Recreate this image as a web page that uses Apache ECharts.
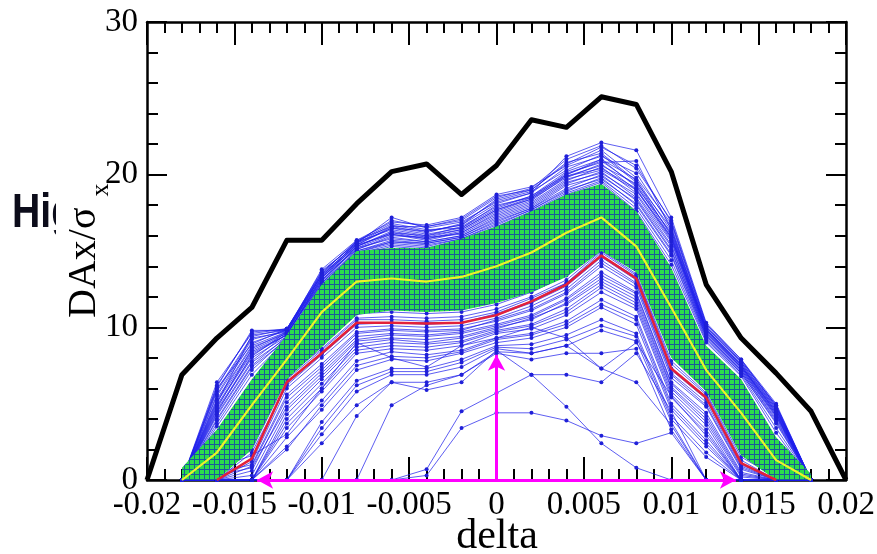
<!DOCTYPE html>
<html>
<head>
<meta charset="utf-8">
<script src="https://cdn.jsdelivr.net/npm/echarts@6/dist/echarts.min.js"></script>
<style>
  html, body { margin: 0; padding: 0; background: #fff; }
  #chart { width: 877px; height: 554px; }
</style>
</head>
<body>
<div id="chart"></div>
<script>
// Momentum offsets of the tracked seeds and of the outer envelope
const seedDelta = [-0.018, -0.016, -0.014, -0.012, -0.010, -0.008, -0.006, -0.004, -0.002, 0,
                   0.002, 0.004, 0.006, 0.008, 0.010, 0.012, 0.014, 0.016, 0.018];
const envDelta = [-0.02, -0.018, -0.016, -0.014, -0.012, -0.010, -0.008, -0.006, -0.004, -0.002, 0,
                  0.002, 0.004, 0.006, 0.008, 0.010, 0.012, 0.014, 0.016, 0.018, 0.02];

// Outer envelope (black)
const maxDA = [0, 6.9, 9.3, 11.3, 15.7, 15.7, 18.1, 20.2, 20.7, 18.7, 20.6,
               23.6, 23.1, 25.1, 24.6, 20.2, 12.8, 9.3, 7.0, 4.5, 0];
// Seed average (yellow) and lower curve (red)
const meanDA = [0, 1.8, 4.9, 7.9, 11.0, 13.0, 13.2, 13.0, 13.3, 14.0,
                14.9, 16.2, 17.2, 15.3, 11.3, 7.2, 4.4, 1.3, 0];
const lowDA = [null, 0, 1.4, 6.4, 8.3, 10.3, 10.3, 10.25, 10.3, 10.8,
               11.7, 12.8, 14.7, 13.2, 7.3, 5.4, 1.1, 0, null];
// Spread band (green)
const bandLow = [0, 0, 2.0, 6.6, 8.7, 10.8, 11.1, 11.0, 11.1, 11.6,
                 12.3, 13.3, 15.0, 13.6, 8.0, 5.8, 1.6, 0, 0];
const bandHigh = [0.8, 3.3, 6.6, 9.5, 12.8, 15.0, 15.2, 15.2, 15.8, 16.6,
                  17.6, 18.7, 19.4, 17.6, 13.9, 8.8, 6.6, 2.8, 0.4];

// Individual seeds (blue)
const upperRuns = [
  [0, 6.4, 9.6, 9.9, 13.4, 15.5, 17.2, 16.5, 16.9, 18.2, 18.8, 21.2, 22.1, 21.6, 17.2, 10.3, 7.9, 5.0, 0],
  [0, 6.1, 9.8, 9.8, 13.8, 15.7, 16.9, 16.7, 17.2, 18.7, 19.2, 20.6, 21.6, 19.8, 16.8, 10.1, 7.7, 4.8, 0],
  [0, 5.8, 9.3, 9.7, 13.5, 15.4, 16.6, 16.2, 16.8, 18.3, 18.9, 20.3, 21.3, 19.5, 16.5, 9.9, 7.6, 4.6, 0],
  [0, 5.5, 9.0, 9.8, 13.2, 15.6, 16.4, 16.0, 16.6, 17.9, 18.6, 20.0, 21.0, 19.2, 16.2, 9.8, 7.5, 4.5, 0],
  [0, 5.2, 8.7, 9.6, 13.0, 15.3, 16.2, 15.8, 16.3, 17.6, 18.4, 19.8, 20.7, 19.0, 15.9, 9.7, 7.4, 4.4, 0],
  [0, 4.9, 8.4, 9.5, 13.3, 15.1, 16.0, 15.9, 16.1, 17.3, 18.1, 19.6, 20.5, 18.8, 15.6, 9.6, 7.3, 4.2, 0],
  [0, 4.6, 8.1, 9.7, 13.1, 15.2, 15.8, 15.6, 16.0, 17.1, 17.9, 19.4, 20.2, 18.5, 15.3, 9.5, 7.2, 4.1, 0],
  [0, 4.3, 7.8, 9.6, 12.9, 15.0, 15.6, 15.5, 15.9, 16.9, 17.8, 19.1, 20.0, 18.3, 15.0, 9.4, 7.1, 3.9, 0],
  [0, 4.0, 7.5, 9.4, 12.8, 14.9, 15.5, 15.3, 15.8, 16.7, 17.7, 18.9, 19.8, 18.0, 14.7, 9.2, 7.0, 3.7, 0],
  [0, 3.7, 7.2, 9.3, 12.6, 14.8, 15.4, 15.2, 15.7, 16.6, 17.6, 18.8, 19.6, 17.8, 14.4, 9.1, 6.9, 3.4, 0],
  [0, 3.5, 6.9, 9.2, 12.5, 14.7, 15.3, 15.1, 15.6, 16.5, 17.5, 18.7, 19.5, 17.6, 14.1, 9.0, 6.8, 3.1, 0],
  [0, 5.0, 9.5, 9.8, 13.6, 15.6, 16.8, 16.4, 16.5, 18.0, 18.5, 20.1, 20.8, 20.9, 16.4, 10.0, 7.8, 4.9, 0],
  [0, 6.0, 8.9, 9.9, 13.7, 15.5, 16.5, 16.3, 16.7, 18.4, 19.0, 20.8, 21.4, 19.6, 16.0, 9.9, 7.6, 4.7, 0],
  [0, 4.4, 8.2, 9.5, 13.2, 15.4, 16.1, 15.7, 16.2, 17.5, 18.3, 19.9, 20.4, 19.1, 15.8, 9.7, 7.4, 4.3, 0],
  [0, 6.2, 9.7, 9.9, 13.6, 15.6, 17.0, 16.6, 17.0, 18.5, 19.1, 21.0, 21.9, 20.4, 17.0, 10.2, 7.8, 4.9, 0],
  [0, 5.6, 9.2, 9.8, 13.4, 15.5, 16.7, 16.3, 16.7, 18.1, 18.8, 20.5, 21.2, 20.1, 16.6, 10.0, 7.7, 4.7, 0],
  [0, 5.3, 8.8, 9.7, 13.3, 15.4, 16.5, 16.1, 16.5, 17.8, 18.6, 20.2, 21.0, 19.7, 16.3, 9.9, 7.5, 4.6, 0],
  [0, 5.1, 8.5, 9.6, 13.1, 15.3, 16.3, 15.9, 16.4, 17.7, 18.5, 19.9, 20.6, 19.4, 16.1, 9.8, 7.4, 4.5, 0],
  [0, 4.8, 8.3, 9.5, 13.0, 15.2, 16.1, 15.8, 16.2, 17.4, 18.2, 19.7, 20.3, 19.0, 15.7, 9.6, 7.3, 4.3, 0],
  [0, 4.5, 8.0, 9.4, 12.9, 15.1, 15.9, 15.6, 16.0, 17.2, 18.0, 19.5, 20.1, 18.7, 15.4, 9.5, 7.2, 4.2, 0],
  [0, 4.2, 7.7, 9.3, 12.8, 15.0, 15.7, 15.5, 15.9, 17.0, 17.8, 19.3, 19.9, 18.4, 15.1, 9.4, 7.1, 4.0, 0],
  [0, 3.9, 7.4, 9.2, 12.7, 14.9, 15.6, 15.4, 15.8, 16.8, 17.7, 19.0, 19.7, 18.1, 14.8, 9.3, 7.0, 3.8, 0],
  [0, 5.9, 9.4, 9.9, 13.5, 15.7, 16.6, 16.6, 17.1, 18.6, 19.0, 20.7, 21.8, 20.6, 16.9, 10.2, 7.9, 4.8, 0],
  [0, 4.7, 8.6, 9.7, 13.4, 15.3, 16.2, 16.0, 16.4, 17.7, 18.4, 20.0, 20.9, 19.3, 15.9, 9.8, 7.5, 4.4, 0]
];
const middleRuns = [
  [0, 0.6, 2.4, 6.8, 8.6, 10.6, 10.7, 10.6, 10.7, 11.2, 12.0, 13.1, 15.0, 13.5, 7.8, 5.7, 1.5, 0.2, 0],
  [0, 1.0, 2.9, 7.2, 8.9, 10.9, 11.0, 10.9, 11.0, 11.5, 12.3, 13.4, 15.3, 13.8, 8.3, 6.1, 2.0, 0.4, 0],
  [0, 0.3, 2.0, 6.6, 8.5, 10.5, 10.5, 10.4, 10.5, 11.0, 11.9, 12.9, 14.9, 13.4, 7.6, 5.6, 1.3, 0, 0],
  [0, 1.3, 3.2, 7.5, 9.2, 11.1, 11.3, 11.1, 11.2, 11.8, 12.5, 13.6, 15.5, 14.0, 8.6, 6.4, 2.3, 0.6, 0]
];
const lowerRuns = [
  [0, 0, 1.2, 6.0, 8.0, 10.0, 10.1, 10.0, 10.1, 10.6, 11.4, 12.5, 14.4, 12.9, 7.0, 5.1, 0.9, 0, 0],
  [0, 0.5, 1.0, 5.6, 7.6, 9.7, 9.9, 9.8, 9.9, 10.4, 11.1, 12.2, 14.0, 12.6, 6.7, 4.8, 0.7, 0, 0],
  [0, 0, 0.6, 5.1, 7.2, 9.4, 9.6, 9.5, 9.7, 10.2, 10.8, 11.9, 13.6, 12.3, 6.4, 4.4, 0.5, 0, 0],
  [0, 0, 0.3, 4.6, 6.8, 9.1, 9.3, 9.2, 9.4, 10.0, 10.5, 11.6, 13.2, 12.0, 6.1, 4.0, 0.3, 0, 0],
  [0, 0, 0, 4.0, 6.3, 8.7, 9.0, 8.9, 9.1, 9.8, 10.2, 11.2, 12.8, 11.6, 5.8, 3.6, 0, 0, 0],
  [0, 0, 0, 3.4, 5.8, 8.3, 8.6, 8.5, 8.8, 9.6, 9.9, 10.8, 12.3, 11.2, 5.4, 3.1, 0, 0, 0],
  [0, 0, 0, 2.8, 5.2, 7.8, 8.4, 8.2, 8.5, 9.3, 9.6, 10.4, 11.8, 10.7, 5.0, 2.6, 0, 0, 0],
  [0, 0, 0, 2.2, 4.6, 7.2, 7.9, 7.8, 8.3, 9.0, 9.3, 10.0, 11.3, 10.2, 4.6, 2.2, 0, 0, 0],
  [0, 0, 0, 0, 3.8, 6.5, 7.3, 7.3, 7.9, 8.8, 8.9, 9.5, 10.5, 9.6, 4.2, 1.8, 0, 0, 0],
  [0, 0, 0, 0, 3.0, 5.8, 6.9, 6.9, 7.4, 8.6, 8.3, 8.8, 9.8, 9.1, 3.8, 0, 0, 0, 0],
  [0, 0, 0, 0, 2.4, 4.9, 6.4, 6.4, 6.9, 8.3, 7.9, 8.3, 8.3, 8.6, 3.3, 0, 0, 0, 0],
  [0, 0, 0, 0, 0, 4.2, 6.4, 5.9, 6.4, 8.5, 6.9, 6.9, 6.4, 8.3, 4.5, 0, 0, 0, 0],
  [0, 0, 1.8, 6.2, 8.2, 10.2, 10.3, 10.2, 10.3, 10.8, 11.6, 12.7, 14.6, 13.1, 7.2, 5.3, 1.0, 0, 0],
  [0, 0.8, 1.6, 3.0, 6.0, 9.0, 8.0, 7.4, 8.8, 9.3, 10.0, 9.3, 7.3, 9.0, 5.5, 2.9, 0, 0, 0],
  [0, 0, 1.4, 6.3, 8.3, 10.3, 10.3, 10.3, 10.3, 10.9, 11.7, 12.9, 14.7, 13.3, 7.3, 5.4, 1.1, 0, 0],
  [0, 0, 0.9, 5.4, 7.4, 9.6, 9.8, 9.7, 9.8, 10.5, 11.2, 12.3, 14.2, 12.8, 6.9, 4.9, 0.8, 0, 0],
  [0, 0, 0, 4.3, 6.6, 8.9, 9.2, 9.0, 9.3, 9.9, 10.6, 11.5, 13.0, 11.8, 6.0, 3.8, 0.2, 0, 0],
  [0, 0, 0, 3.7, 6.0, 8.5, 8.8, 8.7, 9.0, 9.7, 10.1, 11.0, 12.6, 11.4, 5.6, 3.3, 0, 0, 0],
  [0, 0, 0, 2.0, 4.9, 7.5, 8.1, 8.0, 8.4, 9.2, 9.5, 10.2, 11.5, 10.5, 4.8, 2.4, 0, 0, 0],
  [0, 0, 0, 0, 3.4, 6.2, 7.1, 7.1, 7.7, 8.7, 8.6, 9.2, 10.1, 9.4, 4.0, 1.5, 0, 0, 0],
  [0, 0, 0, 0, 0, 0, 4.9, 6.2, 6.9, 8.4, 8.3, 8.8, 7.3, 6.4, 3.6, 0, 0, 0, 0],
  [0, 0.3, 0.8, 4.8, 7.0, 9.2, 9.5, 9.4, 9.6, 10.1, 10.7, 11.8, 13.4, 12.2, 6.3, 4.2, 0.4, 0, 0]
];
const strayRuns = [
  [0, 0, 0, 0, 0, 0, 0, 0.7, 4.5, 5.7, 6.9, 4.8, 2.4, 0.8, 0, 0, 0, 0, 0],
  [0, 0, 0, 0, 0, 0, 0, 0.3, 3.4, 4.4, 4.4, 3.9, 2.9, 2.4, 3.1, 0, 0, 0, 0]
];

// Magenta markers: momentum acceptance span and DA at delta = 0
const arrowSpan = [-0.0137, 0.0137];
const arrowTop = 8.2;

// Tick labels
const xTickLabels = ['-0.02', '-0.015', '-0.01', '-0.005', '0', '0.005', '0.01', '0.015', '0.02'];
const yTickLabels = ['0', '10', '20', '30'];

const serif = '"Liberation Serif", "Times New Roman", serif';

// Fill tile for the band: green cells on a blue mesh
const tile = document.createElement('canvas');
tile.width = 5; tile.height = 5;
const tg = tile.getContext('2d');
tg.fillStyle = '#1b5a9a'; tg.fillRect(0, 0, 5, 5);
tg.fillStyle = '#2bdc4c'; tg.fillRect(0, 0, 4, 4);

function deltaAxis(position, withLabels) {
  return {
    type: 'value', position: position, min: -0.02, max: 0.02, interval: 0.005,
    axisLine: { show: true, onZero: false, lineStyle: { color: '#000', width: 2.5 } },
    axisTick: { show: true, inside: true, length: 23, lineStyle: { color: '#000', width: 2 } },
    minorTick: { show: true, splitNumber: 5, length: 11, lineStyle: { color: '#000', width: 2 } },
    splitLine: { show: false }, minorSplitLine: { show: false },
    axisLabel: {
      show: withLabels, margin: 9, color: '#000', fontSize: 33, fontFamily: serif,
      formatter: v => xTickLabels[Math.round((v + 0.02) / 0.005)]
    }
  };
}
function daAxis(position, withLabels) {
  return {
    type: 'value', position: position, min: 0, max: 30, interval: 10,
    axisLine: { show: true, onZero: false, lineStyle: { color: '#000', width: 2.5 } },
    axisTick: { show: true, inside: true, length: 20, lineStyle: { color: '#000', width: 2 } },
    minorTick: { show: true, splitNumber: 5, length: 11, lineStyle: { color: '#000', width: 2 } },
    splitLine: { show: false }, minorSplitLine: { show: false },
    axisLabel: {
      show: withLabels, margin: 9, color: '#000', fontSize: 33, fontFamily: serif,
      formatter: v => yTickLabels[Math.round(v / 10)]
    }
  };
}

const runSeries = upperRuns.concat(middleRuns, lowerRuns, strayRuns).map(run => ({
  type: 'line', z: 2, silent: true,
  data: seedDelta.map((d, i) => [d, run[i]]),
  symbol: 'circle', symbolSize: 4, showAllSymbol: true,
  lineStyle: { width: 1, color: 'rgba(30,30,235,0.72)' },
  itemStyle: { color: '#2020d8' }
}));

const chart = echarts.init(document.getElementById('chart'), null, { renderer: 'canvas' });
chart.setOption({
  animation: false,
  backgroundColor: '#fff',
  grid: { left: 147, right: 31, top: 22, bottom: 74, containLabel: false, outerBoundsMode: 'none' },
  xAxis: [deltaAxis('bottom', true), deltaAxis('top', false)],
  yAxis: [daAxis('left', true), daAxis('right', false)],
  graphic: [
    { type: 'text', x: 12, y: 213, z: -2, scaleX: 0.8, silent: true,
      style: { text: 'Hig', fontSize: 49, fontWeight: 'bold', fontFamily: '"Liberation Sans", Arial, sans-serif',
               fill: '#0c0c1a', align: 'left', verticalAlign: 'middle' } },
    { type: 'rect', z: -1, silent: true, shape: { x: 56, y: 0, width: 821, height: 554 }, style: { fill: '#fff' } },
    { type: 'text', x: 84.5, y: 318, rotation: Math.PI / 2, z: 10, silent: true,
      style: { text: 'DAx/σ', fontSize: 40, fontFamily: serif, fill: '#000', align: 'left', verticalAlign: 'middle' } },
    { type: 'text', x: 101, y: 190, rotation: Math.PI / 2, z: 10, silent: true,
      style: { text: 'x', fontSize: 26, fontFamily: serif, fill: '#000', align: 'center', verticalAlign: 'middle' } },
    { type: 'text', x: 497, y: 537, z: 10, silent: true,
      style: { text: 'delta', fontSize: 42, fontFamily: serif, fill: '#000', align: 'center', verticalAlign: 'middle' } }
  ],
  series: runSeries.concat([
    {
      type: 'custom', z: 3, silent: true,
      data: [[0, 0]],
      renderItem: function (params, api) {
        const top = seedDelta.map((d, i) => api.coord([d, bandHigh[i]]));
        const bottom = seedDelta.map((d, i) => api.coord([d, bandLow[i]])).reverse();
        return {
          type: 'polygon',
          shape: { points: top.concat(bottom) },
          style: { fill: { image: tile, repeat: 'repeat' } }
        };
      }
    },
    {
      type: 'line', z: 4, silent: true, symbol: 'none',
      data: seedDelta.map((d, i) => [d, meanDA[i]]),
      lineStyle: { color: '#eef22a', width: 2.2 }
    },
    {
      type: 'line', z: 5, silent: true, symbol: 'none',
      data: seedDelta.map((d, i) => [d, lowDA[i]]),
      lineStyle: { color: '#e2203a', width: 2.5 }
    },
    {
      type: 'line', z: 6, silent: true, symbol: 'none',
      data: envDelta.map((d, i) => [d, maxDA[i]]),
      lineStyle: { color: '#000', width: 5, join: 'round' }
    },
    {
      type: 'line', z: 7, silent: true, symbol: 'none',
      data: [[0, 0]], lineStyle: { opacity: 0 },
      markLine: {
        silent: true, animation: false,
        symbol: ['arrow', 'arrow'], symbolSize: [13, 16],
        label: { show: false },
        emphasis: { disabled: true },
        lineStyle: { color: '#ff00ff', width: 3, type: 'solid' },
        data: [
          [{ coord: [arrowSpan[0], 0] }, { coord: [arrowSpan[1], 0] }],
          [{ coord: [0, 0], symbol: 'none' }, { coord: [0, arrowTop] }]
        ]
      }
    }
  ])
});
</script>
</body>
</html>
